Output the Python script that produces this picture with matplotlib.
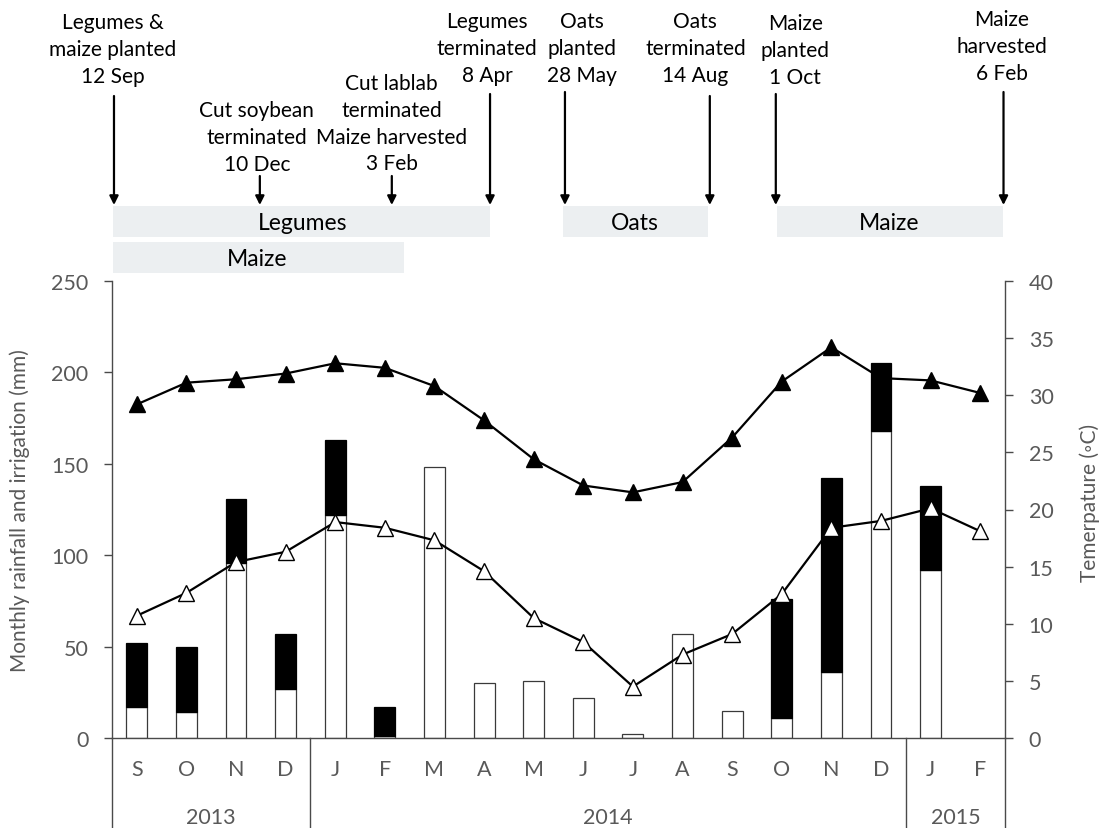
import matplotlib
matplotlib.use("Agg")
import matplotlib.pyplot as plt
import matplotlib.transforms as mtransforms
import numpy as np

plt.rcParams['font.family'] = ['Lato', 'DejaVu Sans']

# ---- data -------------------------------------------------------------
months = ['S', 'O', 'N', 'D', 'J', 'F', 'M', 'A', 'M', 'J', 'J', 'A',
          'S', 'O', 'N', 'D', 'J', 'F']
years = ['2013', '2014', '2015']
year_spans = [(0, 3), (4, 15), (16, 17)]          # first/last month index of each year

rainfall = [17, 14, 96, 27, 122, 1, 148, 30, 31, 22, 2, 57, 15, 11, 36, 168, 92, 0]
irrigation = [35, 36, 35, 30, 41, 16, 0, 0, 0, 0, 0, 0, 0, 65, 106, 37, 46, 0]

t_max = [29.2, 31.1, 31.4, 31.9, 32.8, 32.4, 30.8, 27.8, 24.4, 22.1, 21.5, 22.4,
         26.3, 31.2, 34.2, 31.5, 31.3, 30.2]
t_min = [10.7, 12.7, 15.4, 16.3, 18.9, 18.4, 17.3, 14.6, 10.5, 8.4, 4.5, 7.3,
         9.1, 12.6, 18.4, 19.0, 20.1, 18.1]

# crop periods and management events
crop_bands = ['Legumes', 'Maize', 'Oats', 'Maize']
event_texts = [
    ['Legumes &', 'maize planted', '12 Sep'],
    ['Cut soybean', 'terminated', '10 Dec'],
    ['Cut lablab', 'terminated', 'Maize harvested', '3 Feb'],
    ['Legumes', 'terminated', '8 Apr'],
    ['Oats', 'planted', '28 May'],
    ['Oats', 'terminated', '14 Aug'],
    ['Maize', 'planted', '1 Oct'],
    ['Maize', 'harvested', '6 Feb'],
]

# ---- layout / style ---------------------------------------------------
W, H = 1107, 829
GREY = '#595959'
LINE = '#4a4a4a'
AX_L, AX_R, AX_T, AX_B = 112, 1005, 282, 739   # axes box in pixels

fig = plt.figure(figsize=(W / 100, H / 100), dpi=100)
ax = fig.add_axes([AX_L / W, 1 - AX_B / H, (AX_R - AX_L) / W, (AX_B - AX_T) / H])
ax2 = ax.twinx()

x = np.arange(len(months))
rain = np.array(rainfall, dtype=float)
irr = np.array(irrigation, dtype=float)
bar_w = 0.42

# months without any water get no bar at all
wet = rain > 0
ax.bar(x[wet], rain[wet], width=bar_w, color='white', edgecolor='#3a3a3a',
       linewidth=0.9, zorder=2)
irr_on = irr > 0
ax.bar(x[irr_on], irr[irr_on], width=bar_w, bottom=rain[irr_on], color='black',
       edgecolor='black', linewidth=0.9, zorder=2)

ax2.plot(x, t_max, color='black', lw=1.6, marker='^', markersize=11,
         markerfacecolor='black', markeredgecolor='black', zorder=3)
ax2.plot(x, t_min, color='black', lw=1.6, marker='^', markersize=11,
         markerfacecolor='white', markeredgecolor='black', markeredgewidth=1.0, zorder=3)

ax.set_xlim(-0.5, len(months) - 0.5)
ax.set_ylim(0, 250)
ax2.set_ylim(0, 40)
ax.set_yticks(np.arange(0, 251, 50))
ax2.set_yticks(np.arange(0, 41, 5))

for a in (ax, ax2):
    a.spines['top'].set_visible(False)
    for s in a.spines.values():
        s.set_color(LINE)
        s.set_linewidth(1.0)
ax.spines['right'].set_visible(False)
ax2.spines['left'].set_visible(False)
ax2.spines['bottom'].set_visible(False)

for a in (ax, ax2):
    a.tick_params(axis='y', direction='out', length=6, width=1.0, color=LINE,
                  pad=11, labelsize=15.5, labelcolor=GREY)
ax.set_xticks(x)
ax.set_xticklabels(months)
ax.tick_params(axis='x', length=0, pad=15, labelsize=15.5, labelcolor=GREY)

# year separators and labels below the month axis
trans = mtransforms.blended_transform_factory(ax.transData, ax.transAxes)
drop = -(H - AX_B) / (AX_B - AX_T)
for xs in [-0.5, 3.5, 15.5, len(months) - 0.5]:
    ax.plot([xs, xs], [0, drop], transform=trans, color=LINE, lw=1.0, clip_on=False)
for yr, (a0, a1) in zip(years, year_spans):
    ax.text((a0 + a1) / 2, -(818 - AX_B) / (AX_B - AX_T), yr, transform=trans,
            ha='center', va='center', fontsize=15.5, color=GREY)

fig.text(20 / W, 1 - 511 / H, 'Monthly rainfall and irrigation (mm)', rotation=90,
         ha='center', va='center', fontsize=15, color=GREY)
fig.text(1090 / W, 1 - 503 / H, 'Temerpature (\u25e6C)', rotation=90,
         ha='center', va='center', fontsize=15, color=GREY)

# ---- crop calendar header ---------------------------------------------
hdr = fig.add_axes([AX_L / W, 1 - 280 / H, (AX_R - AX_L) / W, 280 / H])
hdr.set_xlim(ax.get_xlim())
hdr.set_ylim(280, 0)
hdr.axis('off')

band_x = [(-0.48, 7.12), (-0.48, 5.38), (8.60, 11.51), (12.90, 17.46)]
band_y = [(207, 238), (243, 274), (207, 238), (207, 238)]
band_lab_x = [3.35, 2.43, 10.04, 15.16]
for name, (x0, x1), (y0, y1), lx in zip(crop_bands, band_x, band_y, band_lab_x):
    hdr.fill_between([x0, x1], y0, y1, color='#eceff1', lw=0)
    hdr.text(lx, (y0 + y1) / 2 + 1, name, ha='center', va='center', fontsize=16.5, color='black')

text_x = [-0.48, 2.42, 5.14, 7.06, 8.97, 11.26, 13.27, 17.44]
text_y0 = [23, 111, 84, 22, 22, 22, 24, 20]
arrow_x = [-0.46, 2.48, 5.14, 7.12, 8.63, 11.55, 12.88, 17.47]
arrow_y0 = [97, 177, 177, 95, 93, 97, 95, 93]
pitch = 26.8
for lines, tx, ty, axx, ay in zip(event_texts, text_x, text_y0, arrow_x, arrow_y0):
    for i, ln in enumerate(lines):
        hdr.text(tx, ty + i * pitch, ln, ha='center', va='center', fontsize=15, color='black')
    hdr.annotate('', xy=(axx, 206), xytext=(axx, ay),
                 arrowprops=dict(arrowstyle='-|>', lw=1.6, color='black',
                                 mutation_scale=13, shrinkA=0, shrinkB=0))

fig.savefig('out.png', dpi=100)
